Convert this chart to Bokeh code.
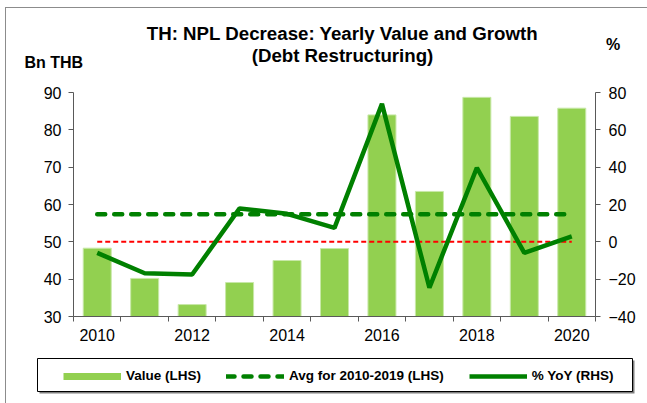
from bokeh.plotting import figure
from bokeh.layouts import column
from bokeh.models import Range1d, LinearAxis, FixedTicker, Legend, LegendItem
from bokeh.core.properties import value
from bokeh.embed import file_html
from bokeh.resources import INLINE

# ---- data ----
years = [2010, 2011, 2012, 2013, 2014, 2015, 2016, 2017, 2018, 2019, 2020]
value_bn = [48.3, 40.2, 33.2, 39.1, 45.0, 48.2, 84.0, 63.5, 88.7, 83.6, 85.8]
yoy_pct = [-5.9, -16.8, -17.5, 17.9, 15.0, 7.5, 73.9, -24.6, 39.7, -5.9, 2.9]
avg_years = years[:10]
x_tick_years = [2010, 2012, 2014, 2016, 2018, 2020]
left_ticks = [30, 40, 50, 60, 70, 80, 90]
right_ticks = [-40, -20, 0, 20, 40, 60, 80]
title_lines = ["TH: NPL Decrease: Yearly Value and Growth", "(Debt Restructuring)"]
left_unit = "Bn THB"
right_unit = "%"
legend_labels = ["Value (LHS)", "Avg for 2010-2019 (LHS)", "% YoY (RHS)"]

avg_value = sum(value_bn[:10]) / len(avg_years)

FONT = "Liberation Sans"
AXIS_COL = "#595959"
GREEN = "#008000"
BAR = "#92D050"
W = 647
NAN = float("nan")


def no_align(f):
    try:
        f.frame_align = False
    except Exception:
        pass


def blank_fig(h):
    f = figure(width=W, height=h, output_backend="svg", toolbar_location=None,
               title=None, x_range=Range1d(0, W), y_range=Range1d(h, 0),
               min_border=0, min_border_left=0, min_border_right=0,
               min_border_top=0, min_border_bottom=0,
               x_axis_location=None, y_axis_location=None)
    f.xgrid.visible = False
    f.ygrid.visible = False
    f.outline_line_color = None
    f.background_fill_color = None
    f.border_fill_color = None
    no_align(f)
    return f


# ---- header (titles and unit labels) ----
top = blank_fig(75)
top.text(x=[342, 342], y=[33, 54.5], text=title_lines, text_font=value(FONT),
         text_font_size="18.7px", text_font_style="bold", text_align="center",
         text_baseline="middle", text_color="black")
top.text(x=[24], y=[61.5], text=[left_unit], text_font=value(FONT),
         text_font_size="16px", text_font_style="bold", text_align="left",
         text_baseline="middle", text_color="black")
top.text(x=[612.5], y=[44], text=[right_unit], text_font=value(FONT),
         text_font_size="16px", text_font_style="bold", text_align="center",
         text_baseline="middle", text_color="black")

# ---- main chart ----
p = figure(width=W, height=280, output_backend="svg", toolbar_location=None,
           title=None,
           x_range=Range1d(years[0] - 0.5, years[-1] + 0.5),
           y_range=Range1d(left_ticks[0], left_ticks[-1]),
           min_border_left=73, min_border_right=52, min_border_top=17,
           min_border_bottom=39, x_axis_location=None, y_axis_location=None)
p.extra_y_ranges = {"pct": Range1d(right_ticks[0], right_ticks[-1])}
p.xgrid.visible = False
p.ygrid.visible = False
p.outline_line_color = None
p.background_fill_color = "white"
p.border_fill_color = None
no_align(p)


def style_axis(ax):
    ax.axis_line_color = AXIS_COL
    ax.axis_line_width = 1
    ax.major_tick_line_color = AXIS_COL
    ax.minor_tick_line_color = AXIS_COL
    ax.major_tick_in = 0
    ax.major_tick_out = 5
    ax.minor_tick_in = 0
    ax.minor_tick_out = 0
    ax.major_label_text_font = FONT
    ax.major_label_text_font_size = "16px"
    ax.major_label_text_color = "black"


yl = LinearAxis(ticker=FixedTicker(ticks=left_ticks))
style_axis(yl)
yl.major_label_standoff = 7
p.add_layout(yl, "left")

yr = LinearAxis(y_range_name="pct", ticker=FixedTicker(ticks=right_ticks))
style_axis(yr)
yr.major_label_standoff = 8
p.add_layout(yr, "right")

xb = LinearAxis(ticker=FixedTicker(ticks=x_tick_years,
                                   minor_ticks=[y - 0.5 for y in years] + [years[-1] + 0.5]))
style_axis(xb)
xb.major_tick_out = 0
xb.major_tick_line_color = None
xb.minor_tick_out = 5
xb.major_label_standoff = 7
p.add_layout(xb, "below")

avg_style = dict(line_color=GREEN, line_width=4.5, line_dash="8 9", line_cap="round")
yoy_style = dict(line_color=GREEN, line_width=4.5)

p.vbar(x=years, top=value_bn, bottom=left_ticks[0], width=0.59,
       fill_color=BAR, line_color="#C8E8A8", line_width=1)
p.line(x=[years[0], years[-1]], y=[0, 0], y_range_name="pct",
       line_color="#FF0000", line_width=2, line_dash="5 3")
p.line(x=[avg_years[0], years[-1]], y=[avg_value, avg_value], **avg_style)
p.line(x=years, y=yoy_pct, y_range_name="pct", **yoy_style)

# ---- legend strip ----
leg = blank_fig(48)
leg.quad(left=[39], right=[634], top=[5], bottom=[38], fill_color="#7F7F7F", line_color=None)
leg.quad(left=[37], right=[632], top=[3], bottom=[36], fill_color="white",
         line_color="black", line_width=1)
# swatch-only renderers (no visible data) for the legend entries
r_val = leg.line(x=[NAN], y=[NAN], line_color=BAR, line_width=7)
r_avg = leg.line(x=[NAN], y=[NAN], **avg_style)
r_yoy = leg.line(x=[NAN], y=[NAN], **yoy_style)

legend = Legend(items=[LegendItem(label=legend_labels[0], renderers=[r_val]),
                       LegendItem(label=legend_labels[1], renderers=[r_avg]),
                       LegendItem(label=legend_labels[2], renderers=[r_yoy])],
                orientation="horizontal", location=(63, 19.5),
                padding=0, spacing=25, glyph_width=58, glyph_height=16,
                label_standoff=5, label_text_font=FONT,
                label_text_font_size="13.5px", label_text_font_style="bold",
                label_text_color="black", border_line_alpha=0,
                background_fill_alpha=0, margin=0)
leg.add_layout(legend)

layout = column(column(top), p, column(leg), spacing=0,
                styles={"background-color": "white",
                        "background-image": "linear-gradient(#8C8C8C, #8C8C8C), linear-gradient(#8C8C8C, #8C8C8C)",
                        "background-size": "1px 100%, 100% 1px",
                        "background-position": "5px 7px, 5px 7px",
                        "background-repeat": "no-repeat"})

open("out.html", "w").write(file_html(layout, INLINE))
